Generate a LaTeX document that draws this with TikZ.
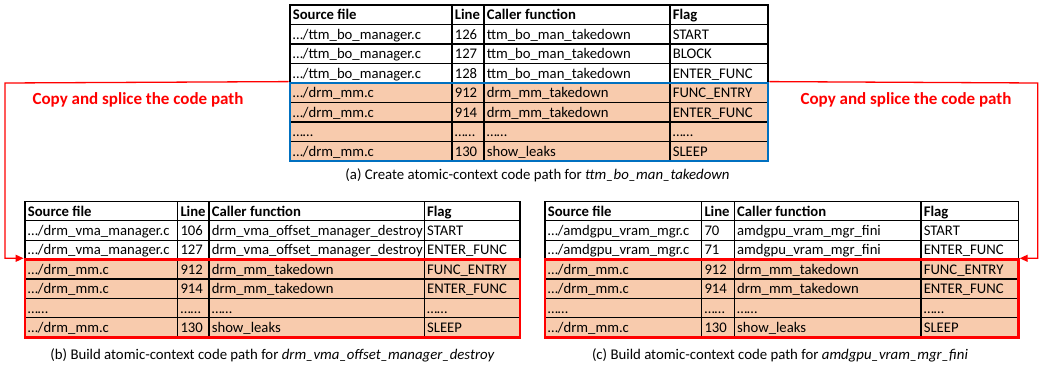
\documentclass[tikz,border=0pt]{standalone}
\usepackage{fontspec}
\setmainfont{Carlito}
\usetikzlibrary{arrows.meta}
\definecolor{peach}{HTML}{F8CBAD}
\definecolor{boxblue}{HTML}{0070C0}
\definecolor{boxred}{HTML}{FF0000}
\tikzset{
  cell/.style={anchor=base west,inner sep=0pt,font=\fontsize{14.7}{18}\selectfont},
  hcell/.style={cell,font=\fontsize{14.7}{18}\selectfont\bfseries},
  gridline/.style={draw=black,line width=1.2pt},
  pathbox/.style={line width=2.8pt,inner sep=0pt},
  caption/.style={inner sep=0pt,font=\fontsize{14.8}{18}\selectfont},
  redlabel/.style={inner sep=0pt,text=boxred,font=\fontsize{17}{20}\selectfont\bfseries},
  link/.style={draw=boxred,line width=1.3pt,-{Triangle[length=8pt,width=7pt]}}
}
% row of four cells: name prefix, y of row bottom, four texts
\newcommand\trow[6]{%
  \node[cell] (#1a) at (\xa+2.6,#2-4.8) {#3};
  \node[cell] (#1b) at (\xb+2.6,#2-4.8) {#4};
  \node[cell] (#1c) at (\xc+2.6,#2-4.8) {#5};
  \node[cell] (#1d) at (\xd+2.6,#2-4.8) {#6};}
\newcommand\hrow[2]{%
  \node[hcell] (#1a) at (\xa+2.6,#2-4.8) {Source file};
  \node[hcell] (#1b) at (\xb+2.6,#2-4.8) {Line};
  \node[hcell] (#1c) at (\xc+2.6,#2-4.8) {Caller function};
  \node[hcell] (#1d) at (\xd+2.6,#2-4.8) {Flag};}
\begin{document}
\begin{tikzpicture}[x=1pt,y=-1pt]
\useasboundingbox (0,0) rectangle (1045,366);
% ---------------- Table (a)
\def\xa{290}\def\xb{452}\def\xc{484}\def\xd{670}
\fill[peach] (290,83) rectangle (768,161);
\draw[gridline] (290,5) rectangle (768,161);
\foreach \y in {24.5,44,63.5,83,102.5,122,141.5} \draw[gridline] (290,\y) -- (768,\y);
\foreach \x in {452,484,670} \draw[gridline] (\x,5) -- (\x,161);
\hrow{ah}{24.5}
\trow{a1}{44}{…/ttm\_bo\_manager.c}{126}{ttm\_bo\_man\_takedown}{START}
\trow{a2}{63.5}{…/ttm\_bo\_manager.c}{127}{ttm\_bo\_man\_takedown}{BLOCK}
\trow{a3}{83}{…/ttm\_bo\_manager.c}{128}{ttm\_bo\_man\_takedown}{ENTER\_FUNC}
\trow{a4}{102.5}{…/drm\_mm.c}{912}{drm\_mm\_takedown}{FUNC\_ENTRY}
\trow{a5}{122}{…/drm\_mm.c}{914}{drm\_mm\_takedown}{ENTER\_FUNC}
\trow{a6}{141.5}{……}{……}{……}{……}
\trow{a7}{161}{…/drm\_mm.c}{130}{show\_leaks}{SLEEP}
\node[pathbox,draw=boxblue,minimum width=478pt,minimum height=78pt] (pathA) at (529,122) {};
\node[caption] (capA) at (537.5,175.5) {(a) Create atomic-context code path for \textit{ttm\_bo\_man\_takedown}};
% ---------------- Table (b)
\def\xa{25}\def\xb{177.7}\def\xc{209}\def\xd{424.3}
\fill[peach] (25,259.7) rectangle (520,337.3);
\draw[gridline] (25,201.5) rectangle (520,337.3);
\foreach \y in {220.9,240.3,259.7,279.1,298.5,317.9} \draw[gridline] (25,\y) -- (520,\y);
\foreach \x in {177.7,209,424.3} \draw[gridline] (\x,201.5) -- (\x,337.3);
\hrow{bh}{220.9}
\trow{b1}{240.3}{…/drm\_vma\_manager.c}{106}{drm\_vma\_offset\_manager\_destroy}{START}
\trow{b2}{259.7}{…/drm\_vma\_manager.c}{127}{drm\_vma\_offset\_manager\_destroy}{ENTER\_FUNC}
\trow{b3}{279.1}{…/drm\_mm.c}{912}{drm\_mm\_takedown}{FUNC\_ENTRY}
\trow{b4}{298.5}{…/drm\_mm.c}{914}{drm\_mm\_takedown}{ENTER\_FUNC}
\trow{b5}{317.9}{……}{……}{……}{……}
\trow{b6}{337.3}{…/drm\_mm.c}{130}{show\_leaks}{SLEEP}
\node[pathbox,draw=boxred,minimum width=495pt,minimum height=77.6pt] (pathB) at (272.5,298.5) {};
\node[caption] (capB) at (272.5,355) {(b) Build atomic-context code path for \textit{drm\_vma\_offset\_manager\_destroy}};
% ---------------- Table (c)
\def\xa{545}\def\xb{701.7}\def\xc{734.3}\def\xd{921}
\fill[peach] (545,259.7) rectangle (1018.3,337.3);
\draw[gridline] (545,201.5) rectangle (1018.3,337.3);
\foreach \y in {220.9,240.3,259.7,279.1,298.5,317.9} \draw[gridline] (545,\y) -- (1018.3,\y);
\foreach \x in {701.7,734.3,921} \draw[gridline] (\x,201.5) -- (\x,337.3);
\hrow{ch}{220.9}
\trow{c1}{240.3}{…/amdgpu\_vram\_mgr.c}{70}{amdgpu\_vram\_mgr\_fini}{START}
\trow{c2}{259.7}{…/amdgpu\_vram\_mgr.c}{71}{amdgpu\_vram\_mgr\_fini}{ENTER\_FUNC}
\trow{c3}{279.1}{…/drm\_mm.c}{912}{drm\_mm\_takedown}{FUNC\_ENTRY}
\trow{c4}{298.5}{…/drm\_mm.c}{914}{drm\_mm\_takedown}{ENTER\_FUNC}
\trow{c5}{317.9}{……}{……}{……}{……}
\trow{c6}{337.3}{…/drm\_mm.c}{130}{show\_leaks}{SLEEP}
\node[pathbox,draw=boxred,minimum width=473.3pt,minimum height=77.6pt] (pathC) at (781.65,298.5) {};
\node[caption] (capC) at (780,355) {(c) Build atomic-context code path for \textit{amdgpu\_vram\_mgr\_fini}};
% ---------------- Connectors
\node[redlabel] (labL) at (138,100) {Copy and splice the code path};
\node[redlabel] (labR) at (906,100) {Copy and splice the code path};
\coordinate (turnL) at (5,83);
\coordinate (turnR) at (1037.7,83);
\draw[link] (pathA.north west) -- (turnL) |- (pathB.north west);
\draw[link] (pathA.north east) -- (turnR) |- (pathC.north east);
\end{tikzpicture}
\end{document}
